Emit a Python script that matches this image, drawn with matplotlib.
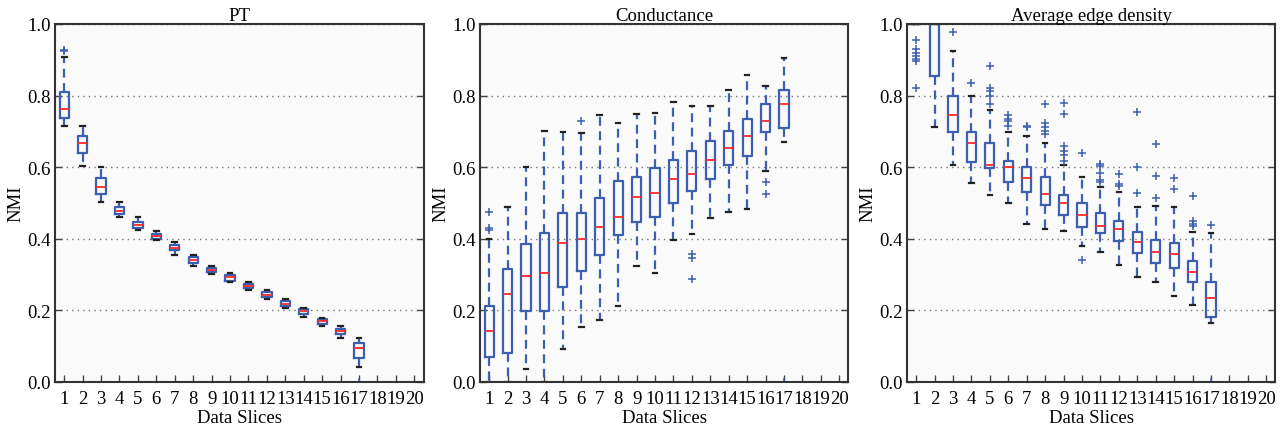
import numpy as np
import matplotlib
matplotlib.use("Agg")
import matplotlib.pyplot as plt

plt.rcParams['font.family'] = ['Liberation Serif', 'DejaVu Serif']

slices = list(range(1, 21))
titles = ['PT', 'Conductance', 'Average edge density']

# PT
pt_q1 = [0.738, 0.639, 0.524, 0.468, 0.429, 0.399, 0.368, 0.333, 0.306, 0.283, 0.263, 0.238, 0.213, 0.190, 0.162, 0.133, 0.066]
pt_med = [0.762, 0.667, 0.546, 0.479, 0.438, 0.408, 0.375, 0.340, 0.312, 0.294, 0.269, 0.244, 0.219, 0.197, 0.170, 0.142, 0.094]
pt_q3 = [0.810, 0.687, 0.569, 0.489, 0.448, 0.414, 0.382, 0.349, 0.319, 0.300, 0.273, 0.252, 0.225, 0.205, 0.177, 0.149, 0.108]
pt_lo = [0.714, 0.604, 0.504, 0.461, 0.424, 0.396, 0.356, 0.325, 0.302, 0.280, 0.258, 0.231, 0.207, 0.182, 0.157, 0.122, 0.042]
pt_hi = [0.908, 0.714, 0.601, 0.504, 0.460, 0.423, 0.391, 0.355, 0.324, 0.304, 0.280, 0.257, 0.231, 0.208, 0.180, 0.155, 0.122]
pt_fliers = [[0.924, 0.928], [], [], [], [], [], [], [], [], [], [], [], [], [], [], [], [0.0]]

# Conductance
co_q1 = [0.071, 0.080, 0.199, 0.199, 0.265, 0.311, 0.354, 0.411, 0.446, 0.461, 0.499, 0.534, 0.567, 0.607, 0.632, 0.697, 0.709]
co_med = [0.143, 0.245, 0.297, 0.304, 0.387, 0.399, 0.434, 0.461, 0.518, 0.527, 0.567, 0.580, 0.620, 0.654, 0.688, 0.730, 0.777]
co_q3 = [0.212, 0.316, 0.385, 0.417, 0.472, 0.472, 0.513, 0.562, 0.573, 0.597, 0.621, 0.645, 0.672, 0.702, 0.734, 0.777, 0.816]
co_lo = [0.0, 0.0, 0.036, 0.0, 0.091, 0.153, 0.172, 0.212, 0.323, 0.304, 0.396, 0.412, 0.457, 0.476, 0.483, 0.590, 0.671]
co_hi = [0.399, 0.490, 0.601, 0.701, 0.698, 0.696, 0.747, 0.724, 0.749, 0.751, 0.783, 0.770, 0.770, 0.817, 0.858, 0.828, 0.904]
co_fliers = [[0.425, 0.430, 0.476], [], [], [], [], [0.728], [], [], [], [], [],
             [0.358, 0.346, 0.287], [], [], [], [0.559, 0.525], [0.0]]

# Average edge density
ad_q1 = [1.0, 0.854, 0.697, 0.615, 0.599, 0.559, 0.531, 0.493, 0.466, 0.433, 0.415, 0.395, 0.360, 0.332, 0.318, 0.280, 0.182]
ad_med = [1.0, 1.0, 0.747, 0.667, 0.606, 0.601, 0.571, 0.525, 0.500, 0.466, 0.437, 0.427, 0.392, 0.362, 0.357, 0.308, 0.234]
ad_q3 = [1.0, 1.0, 0.800, 0.697, 0.667, 0.618, 0.601, 0.572, 0.522, 0.499, 0.472, 0.451, 0.418, 0.397, 0.388, 0.339, 0.280]
ad_lo = [1.0, 0.711, 0.606, 0.556, 0.522, 0.500, 0.440, 0.427, 0.423, 0.381, 0.362, 0.327, 0.293, 0.278, 0.241, 0.215, 0.164]
ad_hi = [1.0, 1.0, 0.924, 0.800, 0.761, 0.697, 0.688, 0.668, 0.606, 0.573, 0.546, 0.532, 0.490, 0.492, 0.490, 0.418, 0.415]
ad_fliers = [[0.955, 0.930, 0.920, 0.910, 0.903, 0.898, 0.821], [], [0.978], [0.835],
             [0.884, 0.821, 0.813, 0.800, 0.777], [0.745, 0.735, 0.728, 0.715], [0.716, 0.712],
             [0.777, 0.723, 0.711, 0.700, 0.693], [0.779, 0.749, 0.658, 0.646, 0.635, 0.618],
             [0.640, 0.340], [0.610, 0.603, 0.585, 0.565, 0.560], [0.581, 0.553, 0.547],
             [0.755, 0.601, 0.528], [0.665, 0.576, 0.514], [0.569, 0.539],
             [0.520, 0.451, 0.441, 0.437], [0.439, 0.0]]

panels = [
    (pt_q1, pt_med, pt_q3, pt_lo, pt_hi, pt_fliers),
    (co_q1, co_med, co_q3, co_lo, co_hi, co_fliers),
    (ad_q1, ad_med, ad_q3, ad_lo, ad_hi, ad_fliers),
]

blue = '#3d5fb0'
fig = plt.figure(figsize=(12.85, 4.31), dpi=100)
lefts = [0.0428, 0.3735, 0.7058]

for i, (q1, med, q3, lo, hi, fl) in enumerate(panels):
    ax = fig.add_axes([lefts[i], 0.1114, 0.2868, 0.8306])
    ax.set_facecolor('#fafafa')
    stats = []
    for k in range(len(med)):
        stats.append({'q1': q1[k], 'med': med[k], 'q3': q3[k],
                      'whislo': lo[k], 'whishi': hi[k], 'fliers': fl[k]})
    ax.bxp(stats, positions=range(1, len(med) + 1), widths=0.5,
           boxprops=dict(color=blue, linewidth=1.6),
           whiskerprops=dict(color=blue, linewidth=1.6, linestyle=(0, (4, 2.5))),
           capprops=dict(color='#222222', linewidth=1.6),
           medianprops=dict(color='#ff2a2a', linewidth=1.3),
           flierprops=dict(marker='+', markeredgecolor=blue, markersize=6,
                           markeredgewidth=1.1, linestyle='none'),
           capwidths=0.25)
    ax.set_xlim(0.5, 20.5)
    ax.set_ylim(0, 1.0)
    ax.set_xticks(slices)
    ax.set_xticklabels([str(s) for s in slices])
    ax.set_yticks(np.arange(0, 1.01, 0.2))
    ax.set_yticklabels(['%.1f' % v for v in np.arange(0, 1.01, 0.2)])
    ax.tick_params(direction='in', length=5, width=1, color='#444444',
                   labelsize=13.5, right=True, top=False)
    ax.tick_params(axis='x', pad=6)
    ax.tick_params(axis='y', pad=3)
    ax.yaxis.grid(True, linestyle=(0, (1, 3)), color='#777777', linewidth=1)
    for sp in ax.spines.values():
        sp.set_color('#333333')
        sp.set_linewidth(1.5)
    ax.set_title(titles[i], fontsize=13.5, pad=3)
    ax.set_xlabel('Data Slices', fontsize=13.5, labelpad=1)
    ax.set_ylabel('NMI', fontsize=13.5, labelpad=2)

fig.savefig('out.png', dpi=100)
